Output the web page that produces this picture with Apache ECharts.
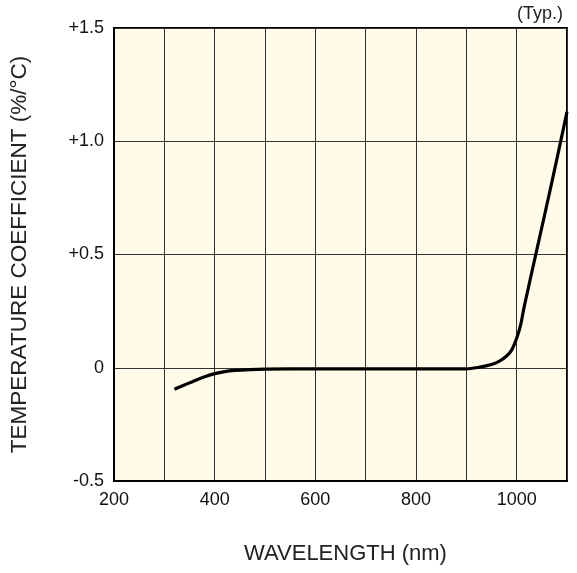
<!DOCTYPE html>
<html>
<head>
<meta charset="utf-8">
<script src="https://cdn.jsdelivr.net/npm/echarts@6/dist/echarts.min.js"></script>
<style>
  html, body { margin: 0; padding: 0; background: #fff; }
  #chart { width: 577px; height: 573px; }
</style>
</head>
<body>
<div id="chart"></div>
<script>
// wavelength (nm) vs temperature coefficient (%/°C)
const wavelength = [320, 340, 360, 380, 400, 420, 440, 470, 500, 600, 700, 800, 900, 925, 950, 965, 980, 990, 1000, 1008, 1015, 1040, 1070, 1100]
const tempCoef = [-0.095, -0.076, -0.057, -0.04, -0.026, -0.017, -0.012, -0.008, -0.006, -0.005, -0.005, -0.005, -0.005, 0.002, 0.014, 0.028, 0.052, 0.078, 0.13, 0.19, 0.27, 0.52, 0.82, 1.13]
const xLabels = { 200: '200', 400: '400', 600: '600', 800: '800', 1000: '1000' }
const yLabels = { '-0.5': '-0.5', '0': '0', '0.5': '+0.5', '1': '+1.0', '1.5': '+1.5' }

const chart = echarts.init(document.getElementById('chart'))
const font = 'Liberation Sans, Arial, sans-serif'

chart.setOption({
  animation: false,
  textStyle: { fontFamily: font },
  title: {
    text: '(Typ.)',
    right: 9,
    top: 0,
    textStyle: { fontSize: 18, fontWeight: 'normal', color: '#222', fontFamily: font }
  },
  grid: {
    left: 113, right: 10, top: 28, bottom: 92,
    show: true,
    backgroundColor: '#fffbe8',
    borderColor: '#000',
    borderWidth: 2
  },
  xAxis: {
    type: 'value',
    min: 200, max: 1100, interval: 100,
    name: 'WAVELENGTH (nm)',
    nameLocation: 'middle',
    nameGap: 62,
    nameTextStyle: { fontSize: 22, color: '#222', padding: [0, 0, 0, 10] },
    axisLine: { show: true, onZero: false, lineStyle: { color: '#000', width: 2 } },
    axisTick: { show: false },
    axisLabel: {
      fontSize: 18, color: '#111', margin: 10,
      formatter: v => xLabels[v] || ''
    },
    splitLine: { show: true, lineStyle: { color: '#333', width: 1 } }
  },
  yAxis: {
    type: 'value',
    min: -0.5, max: 1.5, interval: 0.5,
    name: 'TEMPERATURE COEFFICIENT (%/°C)',
    nameLocation: 'middle',
    nameGap: 83,
    nameTextStyle: { fontSize: 22.5, color: '#222' },
    axisLine: { show: true, onZero: false, lineStyle: { color: '#000', width: 2 } },
    axisTick: { show: false },
    axisLabel: {
      fontSize: 18, color: '#111', margin: 10,
      formatter: v => yLabels[String(v)] || ''
    },
    splitLine: { show: true, lineStyle: { color: '#333', width: 1 } }
  },
  series: [{
    type: 'line',
    data: wavelength.map((w, i) => [w, tempCoef[i]]),
    smooth: 0.3,
    showSymbol: false,
    lineStyle: { color: '#000', width: 3.2 }
  }]
})
</script>
</body>
</html>
